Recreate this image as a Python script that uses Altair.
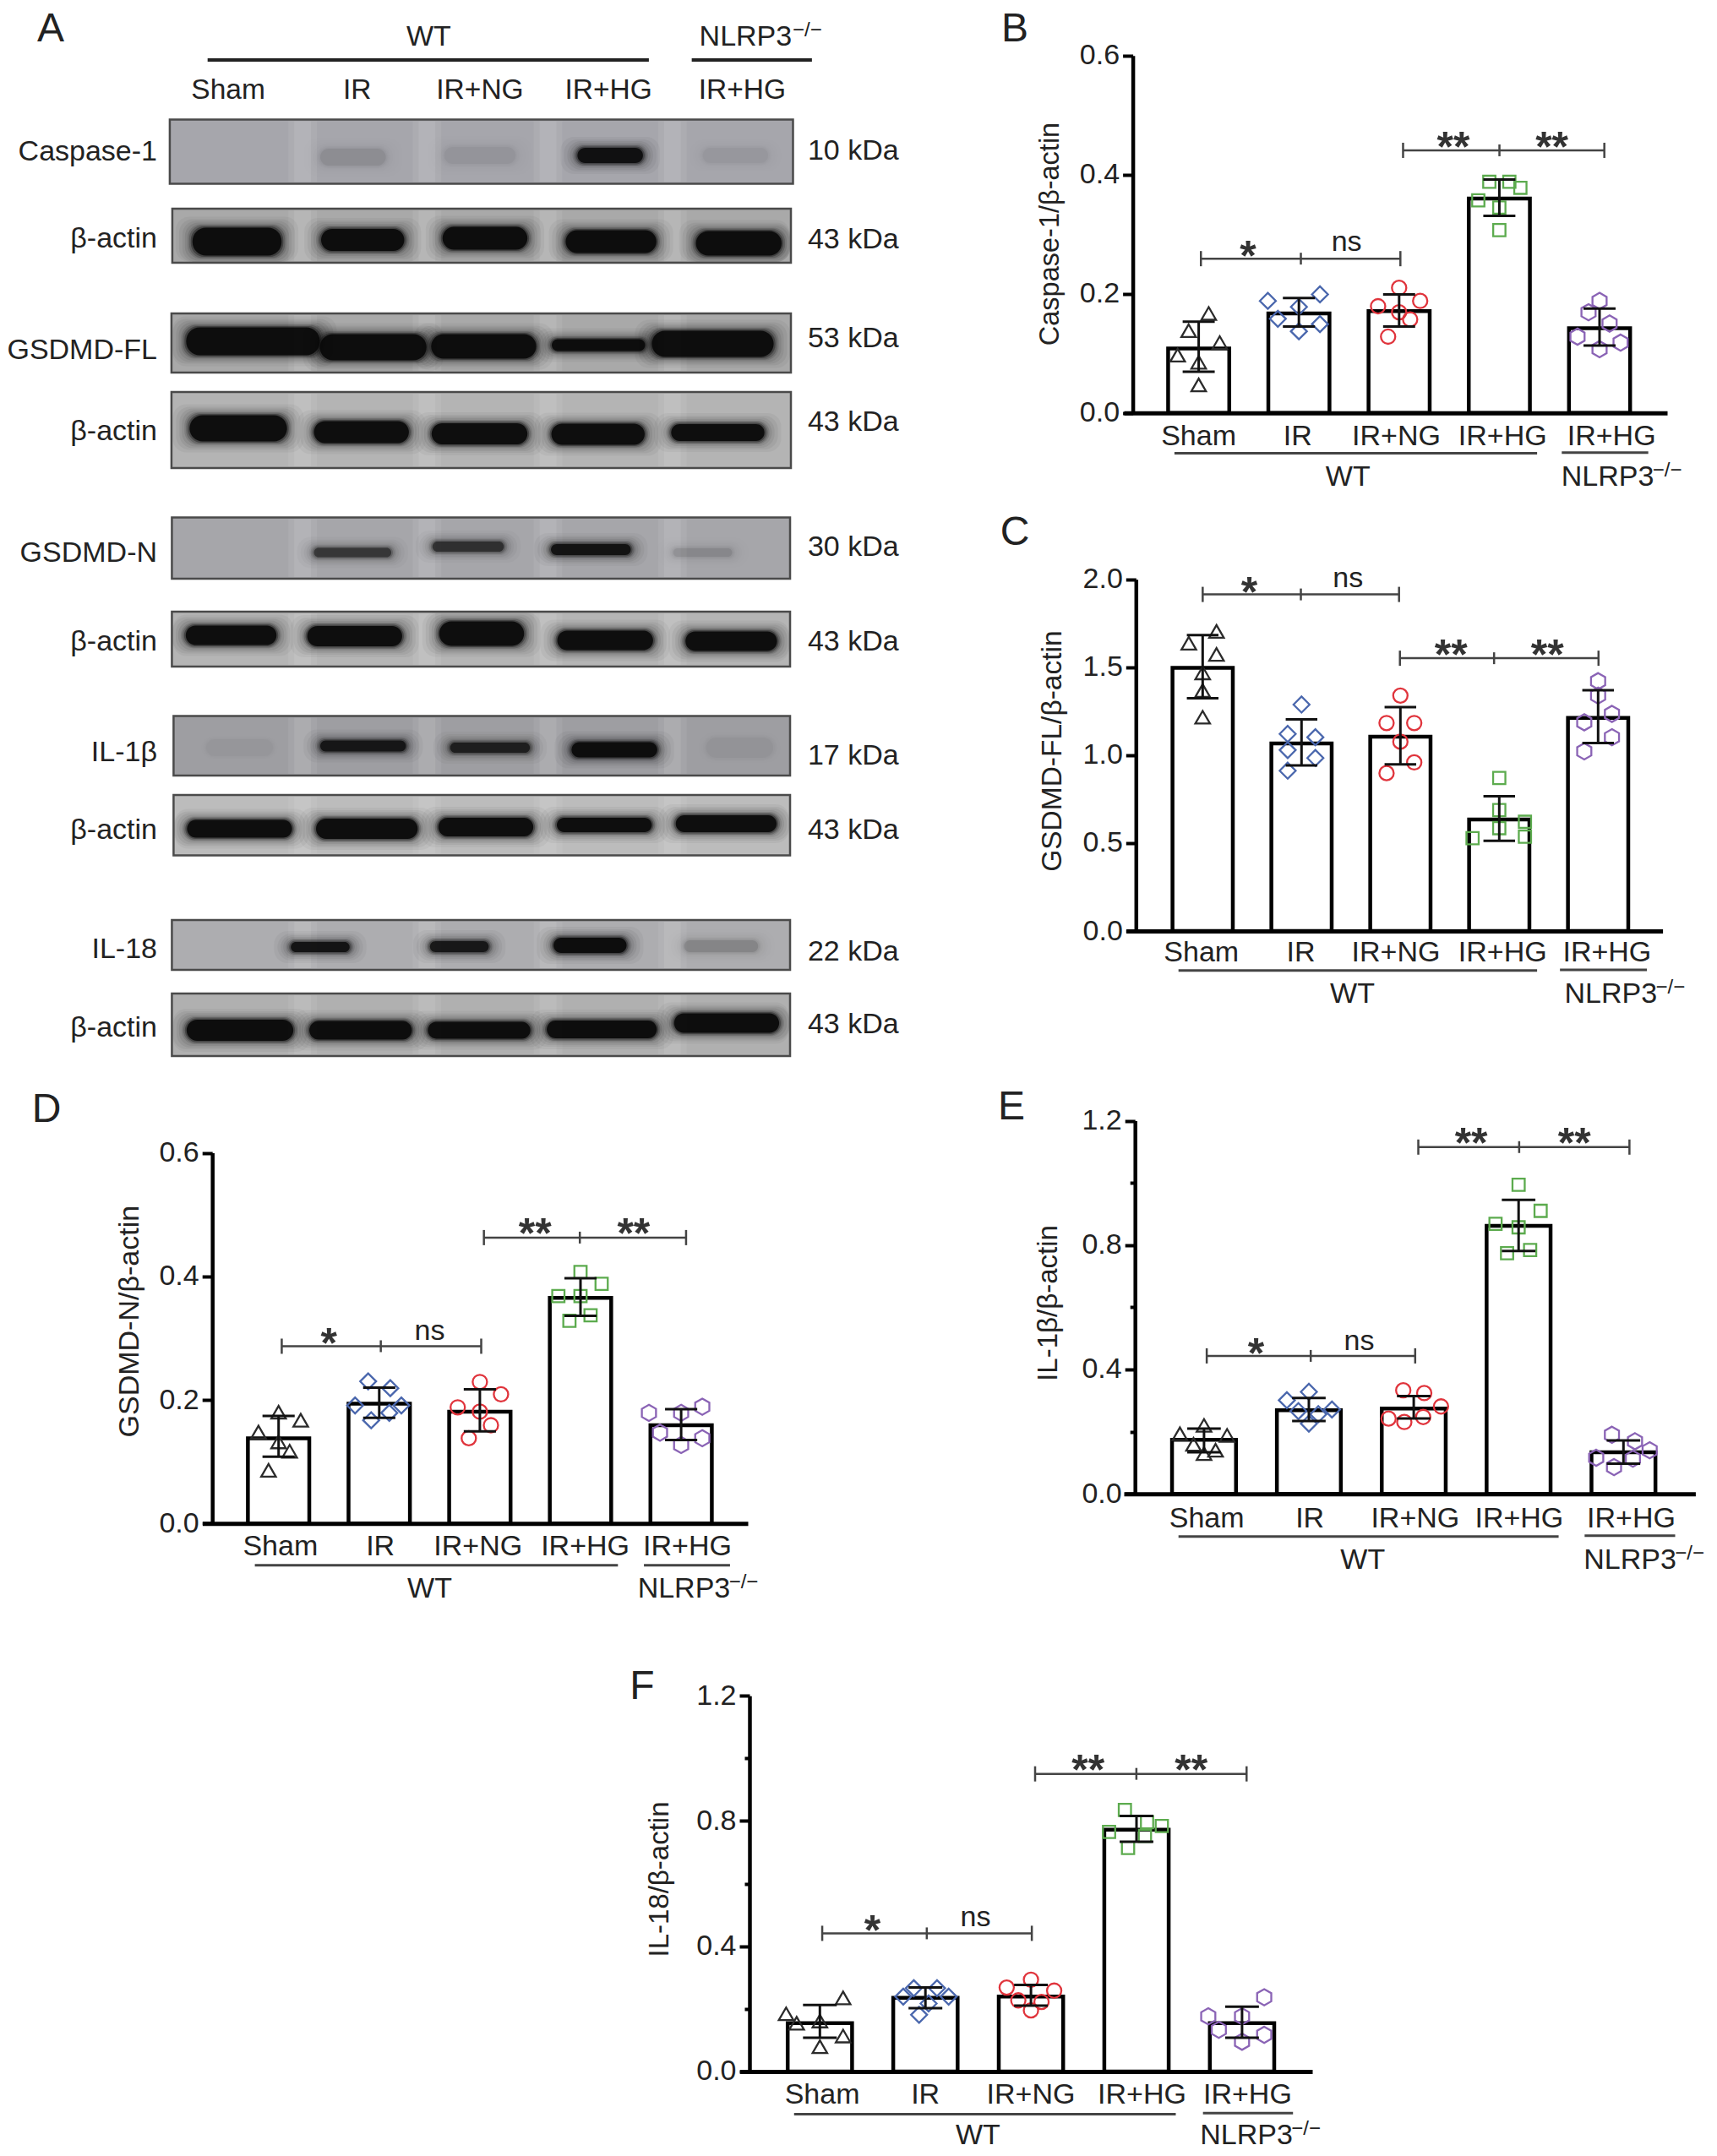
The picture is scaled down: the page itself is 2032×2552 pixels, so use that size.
import altair as alt
import pandas as pd

FONT = "Liberation Sans"
W, H = 2016, 2536
GROUPS = ["Sham", "IR", "IR+NG", "IR+HG", "NLRP3 IR+HG"]
SHAPES = ["triangle-up", "diamond", "circle", "square",
          "M0,-1 L0.87,-0.5 L0.87,0.5 L0,1 L-0.87,0.5 L-0.87,-0.5 Z"]
COLORS = ["#2b2b2b", "#4a67ad", "#e0343c", "#5cab4e", "#8a63b5"]
SIZES = [300, 360, 290, 210, 370]

# ---------- panel B ----------
B_MEAN = [0.108, 0.167, 0.171, 0.360, 0.142]
B_HI = [0.153, 0.193, 0.199, 0.392, 0.175]
B_LO = [0.069, 0.145, 0.145, 0.331, 0.113]
B_VAL = [[.167, .138, .118, .097, .085, .047], [.188, .199, .178, .158, .149, .137],
         [.210, .188, .179, .169, .157, .128], [.388, .388, .378, .357, .345, .307],
         [.188, .169, .150, .128, .118, .107]]
B_JIT = [[.10, -.10, .21, -.21, 0, 0], [-.31, .21, 0, -.21, .21, 0],
         [0, .21, -.21, 0, .11, -.11], [-.10, .10, .21, -.21, 0, 0],
         [0, -.11, .10, -.22, .21, 0]]
# ---------- panel C ----------
C_MEAN = [1.497, 1.067, 1.105, 0.634, 1.212]
C_HI = [1.683, 1.204, 1.273, 0.767, 1.369]
C_LO = [1.324, 0.942, 0.948, 0.513, 1.069]
C_VAL = [[1.704, 1.637, 1.573, 1.468, 1.368, 1.216], [1.288, 1.121, 1.102, 1.029, .984, .912],
         [1.339, 1.183, 1.183, 1.077, .959, .898], [.870, .688, .621, .585, .536, .528],
         [1.421, 1.339, 1.235, 1.187, 1.102, 1.022]]
C_JIT = [[.14, -.14, .14, 0, 0, 0], [0, -.14, .14, -.14, .14, -.14],
         [0, -.14, .14, 0, .14, -.14], [0, 0, .26, 0, .26, -.27],
         [0, 0, .14, -.14, .14, -.14]]
# ---------- panel D ----------
D_MEAN = [0.138, 0.194, 0.181, 0.365, 0.159]
D_HI = [0.174, 0.220, 0.217, 0.397, 0.185]
D_LO = [0.108, 0.171, 0.149, 0.336, 0.135]
D_VAL = [[.180, .167, .148, .132, .117, .086], [.230, .219, .191, .191, .179, .167],
         [.229, .209, .188, .181, .159, .138], [.407, .388, .368, .368, .337, .328],
         [.189, .179, .179, .147, .138, .127]]
D_JIT = [[0, .22, -.20, 0, .11, -.10], [-.11, .11, -.24, .22, .10, -.08],
         [0, .21, -.22, 0, .11, -.11], [0, .21, -.22, 0, .10, -.11],
         [.21, -.32, 0, -.21, .21, 0]]
# ---------- panel E ----------
E_MEAN = [0.174, 0.269, 0.274, 0.862, 0.134]
E_HI = [0.210, 0.308, 0.314, 0.945, 0.172]
E_LO = [0.134, 0.234, 0.242, 0.781, 0.097]
E_VAL = [[.220, .193, .188, .159, .140, .129], [.328, .301, .271, .266, .256, .226],
         [.333, .324, .281, .242, .247, .231], [.994, .910, .868, .857, .784, .774],
         [.190, .169, .140, .116, .113, .086]]
E_JIT = [[0, -.23, .22, -.10, .11, 0], [0, -.21, .22, -.10, .09, 0],
         [-.10, .10, .26, -.24, .09, -.09], [0, .21, -.22, 0, .11, -.11],
         [-.11, .11, .25, -.26, .09, -.09]]
# ---------- panel F ----------
F_MEAN = [0.154, 0.235, 0.239, 0.772, 0.154]
F_HI = [0.212, 0.268, 0.276, 0.816, 0.207]
F_LO = [0.108, 0.202, 0.210, 0.734, 0.108]
F_VAL = [[.235, .184, .154, .161, .113, .079], [.266, .266, .239, .239, .217, .181],
         [.293, .268, .258, .227, .222, .195], [.835, .796, .784, .765, .752, .714],
         [.237, .176, .176, .133, .117, .095]]
F_JIT = [[.22, -.32, -.22, 0, .22, 0], [-.11, .11, .22, -.21, .03, -.06],
         [0, -.23, .22, -.12, .10, 0], [-.11, .10, .24, -.26, .08, -.08],
         [.21, -.32, 0, -.22, .21, 0]]

# ---------- panel A: page positions of the gel strips and bands ----------
AX = 0.9947
BLOT_X0 = [202, 205, 204, 204, 204.5, 204.5, 206.5, 206.5, 204.5, 204.5]
BLOT_X1 = [943.5, 941, 941, 941, 940, 940, 940, 940, 940, 940]
BLOT_Y0 = [141.5, 247, 371, 464, 612.5, 724, 847.5, 941, 1089, 1176]
BLOT_Y1 = [217.5, 311, 441, 554, 685, 789, 918, 1012.5, 1148, 1250]
BLOT_BG = ["#a6a6ac", "#a9a9a9", "#a9a9a9", "#b4b4b4", "#a6a6aa",
           "#b5b5b5", "#9e9ea2", "#bcbcbc", "#adadb0", "#b0b0b0"]
GAP_X = [360, 508, 652, 800]
GAP_W = [34, 20]
GAP_A = [.07, .09]
BAND_BLOT = [0]*4 + [1]*5 + [2]*5 + [3]*5 + [4]*4 + [5]*5 + [6]*5 + [7]*5 + [8]*4 + [9]*5
BAND_X = [420, 571, 726, 875, 282, 431.5, 577, 727, 879, 301, 444, 575.5, 712, 848,
          283.5, 430, 570.5, 711.5, 854, 419.5, 557, 703, 836, 275, 422, 573, 720, 870,
          285, 432, 583, 731, 880, 285, 436.5, 578, 719, 864, 381, 546.5, 702, 858,
          285.5, 429, 570, 716, 864.5]
BAND_Y = [186, 184, 184, 184, 286, 284, 282, 286, 288, 404, 411, 410, 408.5, 407,
          507, 511.5, 513.5, 514, 512, 654, 647, 650.5, 654, 752, 753, 750, 758, 759,
          885, 883, 885, 887.5, 885, 981, 981, 979, 976.5, 975, 1121, 1120.5, 1119, 1120,
          1219.5, 1219.5, 1219.5, 1218.5, 1211]
BAND_W = [78, 85, 78, 78, 106, 99, 101, 108, 102, 159, 127, 125, 111, 145,
          116, 113, 114, 111, 111, 92, 85, 95, 70, 108, 113, 101, 114, 109,
          80, 102, 95, 102, 80, 125, 121, 113, 113, 120, 70, 70, 87, 88,
          127, 122, 122, 131, 125]
BAND_H = [20, 20, 18, 18, 33, 26, 27, 27, 29, 33, 31, 29, 14, 31,
          31, 26, 25, 25, 20, 11, 12, 13, 10, 23, 24, 29, 23, 23,
          20, 13, 12, 18, 24, 21, 24, 22, 17, 20, 12, 13, 18, 14,
          25, 22, 20, 21, 23]
BAND_I = [.08, .05, .95, .04, 1, 1, 1, 1, 1, 1, 1, 1, 1, 1,
          1, 1, 1, 1, 1, .55, .6, .9, .10, 1, 1, 1, 1, 1,
          .02, .85, .75, 1, .03, 1, 1, 1, 1, 1, .9, .85, 1, .13,
          1, 1, 1, 1, 1]
HALO_DX = [20, 16, 12, 9, 6, 4, 2, 0]
HALO_DY = [13, 10, 8, 6, 4, 3, 1.5, 0]
HALO_A = [.04, .05, .06, .08, .12, .2, .35, .9]

ROW_TEXT = ["Caspase-1", "β-actin", "GSDMD-FL", "β-actin", "GSDMD-N", "β-actin", "IL-1β", "β-actin", "IL-18", "β-actin"]
ROW_Y = [178, 281, 413, 509, 653, 758, 889, 981, 1122, 1215]
KDA_TEXT = ["10 kDa", "43 kDa", "53 kDa", "43 kDa", "30 kDa", "43 kDa", "17 kDa", "43 kDa", "22 kDa", "43 kDa"]
KDA_Y = [177, 282, 399, 498, 646, 758, 892.5, 981, 1125, 1211]
LANE_TEXT = ["Sham", "IR", "IR+NG", "IR+HG", "IR+HG"]
LANE_X = [271.5, 425, 571, 724, 883]
LETTERS = ["A", "B", "C", "D", "E", "F"]
LETTER_X = [60, 1201, 1201, 55, 1197, 760]
LETTER_Y = [33, 33, 629, 1312, 1309, 1995]


def text_mark(df, x, y, size=34, align="center", baseline="middle", dy=2, color="#222222", weight="normal"):
    return alt.Chart(df).mark_text(font=FONT, fontSize=size, align=align, baseline=baseline, fontWeight=weight,
                                   dy=dy, color=color).encode(x=x, y=y, text="t:N")


def ax(values):
    return [v * AX for v in values]


# ---------- panel A ----------
def panel_a():
    sx = alt.Scale(domain=[8, 8 + W], range=[0, W], zero=False, nice=False)
    sy = alt.Scale(domain=[8, 8 + H], range=[0, H], zero=False, nice=False)
    X = alt.X("x:Q", scale=sx, axis=None)
    Y = alt.Y("y:Q", scale=sy, axis=None)
    blots = pd.DataFrame({"x": ax(BLOT_X0), "x2": ax(BLOT_X1), "y": BLOT_Y0, "y2": BLOT_Y1, "bg": BLOT_BG})
    bg = alt.Chart(blots).mark_rect(stroke="#4a4a4a", strokeWidth=2.5).encode(
        x=X, x2="x2:Q", y=Y, y2="y2:Q", fill=alt.Fill("bg:N", scale=None))
    gaps = []
    for gw, ga in zip(GAP_W, GAP_A):
        for y0, y1 in zip(BLOT_Y0, BLOT_Y1):
            for g in GAP_X:
                gaps.append({"x": (g - gw / 2) * AX, "x2": (g + gw / 2) * AX, "y": y0 + 2, "y2": y1 - 2, "o": ga})
    gap = alt.Chart(pd.DataFrame(gaps)).mark_rect(color="white").encode(
        x=X, x2="x2:Q", y=Y, y2="y2:Q", opacity=alt.Opacity("o:Q", scale=None))
    rows = []
    for k, (dx, dy, a) in enumerate(zip(HALO_DX, HALO_DY, HALO_A)):
        for b, xc, yc, w, h, i in zip(BAND_BLOT, BAND_X, BAND_Y, BAND_W, BAND_H, BAND_I):
            rows.append({"k": k, "x": max(xc - w / 2 - dx, BLOT_X0[b] + 1) * AX,
                         "x2": min(xc + w / 2 + dx, BLOT_X1[b] - 1) * AX,
                         "y": max(yc - h / 2 - dy, BLOT_Y0[b] + 1), "y2": min(yc + h / 2 + dy, BLOT_Y1[b] - 1),
                         "o": a * i})
    bands = alt.Chart(pd.DataFrame(rows)).mark_rect(cornerRadius=16, color="#080808").encode(
        x=X, x2="x2:Q", y=Y, y2="y2:Q", opacity=alt.Opacity("o:Q", scale=None), order="k:Q")
    lines = pd.DataFrame({"x": ax([247, 823]), "x2": ax([772, 966]), "y": [71, 71]})
    heads = alt.Chart(lines).mark_rule(strokeWidth=4, color="#222222").encode(x=X, x2="x2:Q", y=Y)
    lay = [bg, gap, bands, heads,
           text_mark(pd.DataFrame({"x": ax(LANE_X), "y": [105] * 5, "t": LANE_TEXT}), X, Y, size=33.5),
           text_mark(pd.DataFrame({"x": ax([187] * 10), "y": ROW_Y, "t": ROW_TEXT}), X, Y, align="right"),
           text_mark(pd.DataFrame({"x": ax([961] * 10), "y": KDA_Y, "t": KDA_TEXT}), X, Y, align="left"),
           text_mark(pd.DataFrame({"x": ax([510]), "y": [42], "t": ["WT"]}), X, Y),
           text_mark(pd.DataFrame({"x": ax([832]), "y": [42], "t": ["NLRP3"]}), X, Y, align="left"),
           text_mark(pd.DataFrame({"x": ax([943]), "y": [34], "t": ["−/−"]}), X, Y, size=24, align="left"),
           text_mark(pd.DataFrame({"x": LETTER_X, "y": LETTER_Y, "t": LETTERS}), X, Y, size=48)]
    return alt.layer(*lay)


# ---------- bar panels ----------
def bar_panel(cfg):
    axis_x, tick_x, right, y0, ytop, ymax = cfg["geom"]
    c0, step = cfg["cent"]
    ox, fx, oy, fy = cfg["ref"]
    px_per = (y0 - ytop) / ymax
    gx = lambda z: ((ox + z / fx) - c0) / step
    vy = lambda z: (y0 - (oy + z / fy)) / px_per
    sx = alt.Scale(domain=[(tick_x - c0) / step, (right - c0) / step], range=[tick_x - 8, right - 8],
                   zero=False, nice=False)
    sy = alt.Scale(domain=[0, ymax], range=[y0 - 8, ytop - 8], zero=False, nice=False)
    X = alt.X("x:Q", scale=sx, axis=None)
    Y = alt.Y("y:Q", scale=sy, axis=None)
    hw = 0.305
    n = len(GROUPS)
    bars = pd.DataFrame({"x": [i - hw for i in range(n)], "x2": [i + hw for i in range(n)],
                         "y": cfg["mean"], "y2": [0] * n})
    barm = alt.Chart(bars).mark_rect(fill="white", stroke="black", strokeWidth=4.5).encode(
        x=X, x2="x2:Q", y=Y, y2="y2:Q")
    tick_size = 12
    label_expr = "datum.label"
    if cfg["minor"]:
        test = "datum.value==0.2||datum.value==0.6||datum.value==1"
        tick_size = {"condition": {"test": test, "value": 6}, "value": 12}
        label_expr = f"({test})?'':datum.label"
    yaxis = alt.Axis(orient="left", offset=-(axis_x - 8), values=cfg["ticks"], format=".1f", grid=False,
                     domainColor="black", domainWidth=4.5, tickColor="black", tickWidth=4, tickSize=tick_size,
                     labelFont=FONT, labelFontSize=34, labelColor="#222222", labelPadding=4, labelOverlap=False,
                     labelExpr=label_expr, labelFlush=False, labelBound=False,
                     title=cfg["title"], titleFont=FONT, titleFontSize=cfg["title_size"], titleFontWeight="normal",
                     titleColor="#222222", titleBaseline="middle", titleAlign="center", titleAngle=270,
                     titleX=cfg["title_pos"][0] - axis_x, titleY=cfg["title_pos"][1] - 8)
    xaxis = alt.Axis(orient="bottom", offset=(y0 - 8) - H, labels=False, ticks=False, title=None, grid=False,
                     domainColor="black", domainWidth=5, zindex=1)
    axes = alt.Chart(pd.DataFrame({"x": [0], "y": [0]})).mark_point(opacity=0).encode(
        x=alt.X("x:Q", scale=sx, axis=xaxis), y=alt.Y("y:Q", scale=sy, axis=yaxis))
    lay = [barm]
    for i in range(n):
        pts = pd.DataFrame({"x": [i + j for j in cfg["jit"][i]], "y": cfg["val"][i]})
        lay.append(alt.Chart(pts).mark_point(shape=SHAPES[i], size=SIZES[i], filled=False, stroke=COLORS[i],
                                             strokeWidth=2.3, opacity=1).encode(x=X, y=Y))
    stems = pd.DataFrame({"x": list(range(n)), "y": cfg["hi"], "y2": cfg["lo"]})
    lay.append(alt.Chart(stems).mark_rule(color="#111111", strokeWidth=3).encode(x=X, y=Y, y2="y2:Q"))
    caps = pd.DataFrame({"x": [i - .16 for i in range(n)] * 2, "x2": [i + .16 for i in range(n)] * 2,
                         "y": cfg["hi"] + cfg["lo"]})
    lay.append(alt.Chart(caps).mark_rule(color="#111111", strokeWidth=3).encode(x=X, x2="x2:Q", y=Y))
    # significance brackets
    by1, bx1, by2, bx2 = cfg["brk"]
    br = []
    for yz, xs in ((by1, bx1), (by2, bx2)):
        br.append({"x": gx(xs[0]), "x2": gx(xs[2]), "y": vy(yz)})
    lay.append(alt.Chart(pd.DataFrame(br)).mark_rule(color="#444444", strokeWidth=2.5).encode(x=X, x2="x2:Q", y=Y))
    vt = []
    for yz, xs in ((by1, bx1), (by2, bx2)):
        for xv, d in zip(xs, (9, 7, 9)):
            vt.append({"x": gx(xv), "y": vy(yz - d * fy), "y2": vy(yz + d * fy)})
    lay.append(alt.Chart(pd.DataFrame(vt)).mark_rule(color="#444444", strokeWidth=2.5).encode(x=X, y=Y, y2="y2:Q"))
    st = cfg["stars"]
    lay.append(text_mark(pd.DataFrame({"x": [gx(s[0]) for s in st], "y": [vy(s[1]) for s in st],
                                       "t": [s[2] for s in st]}), X, Y, size=50, baseline="alphabetic", dy=29,
                         color="#333333", weight="bold"))
    ns = cfg["ns"]
    lay.append(text_mark(pd.DataFrame({"x": [gx(ns[0])], "y": [vy(ns[1])], "t": ["ns"]}), X, Y))
    lab_y = cfg["lab_y"]
    lay.append(text_mark(pd.DataFrame({"x": [gx(z) for z in cfg["lab_x"]], "y": [vy(lab_y)] * n, "t": LANE_TEXT}), X, Y))
    ly1, lx1, ly2, lx2 = cfg["under"]
    und = pd.DataFrame({"x": [gx(lx1[0]), gx(lx2[0])], "x2": [gx(lx1[1]), gx(lx2[1])], "y": [vy(ly1), vy(ly2)]})
    lay.append(alt.Chart(und).mark_rule(color="#444444", strokeWidth=3).encode(x=X, x2="x2:Q", y=Y))
    wx, wy, nx = cfg["wt"]
    lay.append(text_mark(pd.DataFrame({"x": [gx(wx)], "y": [vy(wy)], "t": ["WT"]}), X, Y))
    nleft = nx - 134 * (fx / 1.885)
    lay.append(text_mark(pd.DataFrame({"x": [gx(nleft)], "y": [vy(wy)], "t": ["NLRP3"]}), X, Y, align="left"))
    lay.append(text_mark(pd.DataFrame({"x": [gx(nleft + 108 * fx)], "y": [vy(wy - 8 * fy)], "t": ["−/−"]}), X, Y,
                         size=24, align="left"))
    return [axes, alt.layer(*lay)]


PANELS = [
    dict(geom=(1340.6, 1330, 1973, 488.7, 65.8, 0.6), cent=(1418.6, 118.6), ref=(1200, 1.885, 0, 2.613),
         mean=B_MEAN, hi=B_HI, lo=B_LO, val=B_VAL, jit=B_JIT, ticks=[0.0, 0.2, 0.4, 0.6], minor=False,
         title="Caspase-1/β-actin", title_pos=(1242.4, 276.5), title_size=32.5,
         brk=(800, (417, 640, 862), 465, (868, 1083, 1317)),
         stars=[(522, 760, "*"), (980, 424, "**"), (1200, 424, "**")], ns=(742, 745),
         lab_x=[412, 633, 853, 1090, 1333], lab_y=1345, under=(1402, (358, 1167), 1400, (1222, 1415)),
         wt=(745, 1472, 1355)),
    dict(geom=(1344.3, 1332.6, 1967.6, 1102, 685.8, 2.0), cent=(1423.3, 117), ref=(1200, 1.885, 600, 2.529),
         mean=C_MEAN, hi=C_HI, lo=C_LO, val=C_VAL, jit=C_JIT, ticks=[0.0, 0.5, 1.0, 1.5, 2.0], minor=False,
         title="GSDMD-FL/β-actin", title_pos=(1245, 888.6), title_size=33.5,
         brk=(262, (421, 640, 859), 453, (861, 1071, 1304)),
         stars=[(525, 225, "*"), (975, 412, "**"), (1190, 412, "**")], ns=(745, 210),
         lab_x=[418, 640, 852, 1090, 1323], lab_y=1330, under=(1388, (367, 1167), 1386, (1218, 1412)),
         wt=(755, 1455, 1362)),
    dict(geom=(251.2, 239.5, 885, 1803.3, 1364.5, 0.6), cent=(329.7, 119.1), ref=(100, 1.885, 1280, 2.45),
         mean=D_MEAN, hi=D_HI, lo=D_LO, val=D_VAL, jit=D_JIT, ticks=[0.0, 0.2, 0.4, 0.6], minor=False,
         title="GSDMD-N/β-actin", title_pos=(153, 1563.7), title_size=34,
         brk=(768, (440, 661, 885), 453, (891, 1105, 1342)),
         stars=[(545, 730, "*"), (1005, 412, "**"), (1225, 412, "**")], ns=(770, 720),
         lab_x=[437, 660, 878, 1117, 1345], lab_y=1345, under=(1403, (380, 1190), 1403, (1248, 1440)),
         wt=(770, 1468, 1368)),
    dict(geom=(1343.2, 1330, 2006.4, 1768.2, 1326.5, 1.2), cent=(1424.9, 124.1), ref=(1200, 1.885, 1270, 2.529),
         mean=E_MEAN, hi=E_HI, lo=E_LO, val=E_VAL, jit=E_JIT, ticks=[0.0, 0.2, 0.4, 0.6, 0.8, 1.0, 1.2], minor=True,
         title="IL-1β/β-actin", title_pos=(1240, 1542), title_size=33,
         brk=(847, (430, 662, 895), 222, (902, 1127, 1373)),
         stars=[(540, 810, "*"), (1020, 180, "**"), (1250, 180, "**")], ns=(770, 800),
         lab_x=[430, 660, 895, 1127, 1377], lab_y=1330, under=(1388, (367, 1215), 1385, (1273, 1475)),
         wt=(778, 1455, 1405)),
    dict(geom=(887, 875.4, 1553, 2451.9, 2007.2, 1.2), cent=(970.3, 124.9), ref=(730, 1.802, 1960, 2.649),
         mean=F_MEAN, hi=F_HI, lo=F_LO, val=F_VAL, jit=F_JIT, ticks=[0.0, 0.2, 0.4, 0.6, 0.8, 1.0, 1.2], minor=True,
         title="IL-18/β-actin", title_pos=(780, 2224), title_size=33,
         brk=(870, (438, 661, 885), 370, (892, 1108, 1343)),
         stars=[(545, 830, "*"), (1005, 325, "**"), (1225, 325, "**")], ns=(765, 815),
         lab_x=[438, 658, 883, 1120, 1345], lab_y=1372, under=(1437, (378, 1192), 1434, (1250, 1442)),
         wt=(770, 1500, 1372)),
]

children = [panel_a()]
for c in PANELS:
    children += bar_panel(c)

chart = alt.layer(*children).resolve_scale(
    x="independent", y="independent"
).properties(width=W, height=H, padding=0, background="white",
             autosize=alt.AutoSizeParams(type="none")).configure_view(stroke=None)

chart.save("out.html", embed_options={"renderer": "svg", "actions": False})
